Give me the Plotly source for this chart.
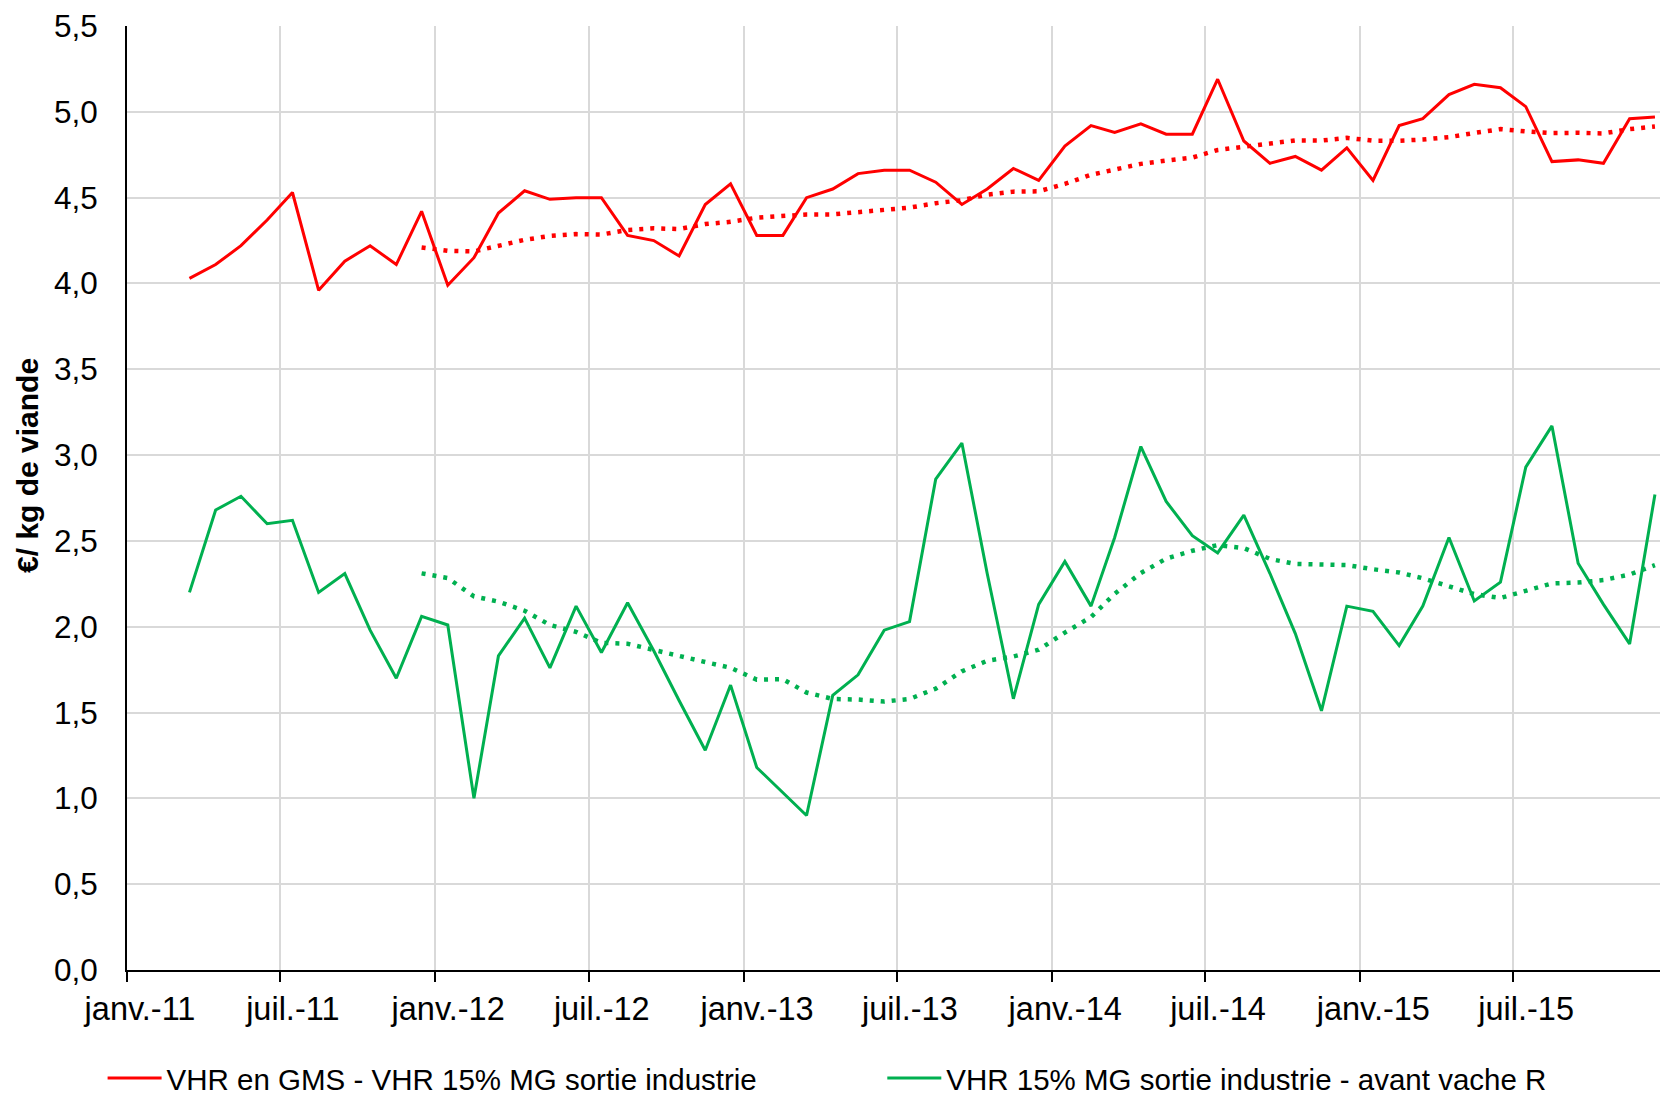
import pandas as pd
import plotly.graph_objects as go

# Monthly categories (March 2011 -> December 2015), plotted at mid-month
months = pd.period_range("2011-03", "2015-12", freq="M")

# VHR en GMS - VHR 15% MG sortie industrie (€/kg)
red_values = [
    4.03, 4.11, 4.22, 4.37, 4.53, 3.96, 4.13, 4.22, 4.11, 4.42,
    3.99, 4.15, 4.41, 4.54, 4.49, 4.50, 4.50, 4.28, 4.25, 4.16, 4.46, 4.58,
    4.28, 4.28, 4.50, 4.55, 4.64, 4.66, 4.66, 4.59, 4.46, 4.55, 4.67, 4.60,
    4.80, 4.92, 4.88, 4.93, 4.87, 4.87, 5.19, 4.83, 4.70, 4.74, 4.66, 4.79,
    4.60, 4.92, 4.96, 5.10, 5.16, 5.14, 5.03, 4.71, 4.72, 4.70, 4.96, 4.97,
]

# VHR 15% MG sortie industrie - avant vache R (€/kg)
green_values = [
    2.20, 2.68, 2.76, 2.60, 2.62, 2.20, 2.31, 1.98, 1.70, 2.06,
    2.01, 1.00, 1.83, 2.05, 1.76, 2.12, 1.85, 2.14, 1.86, 1.57, 1.28, 1.66,
    1.18, 1.03, 0.90, 1.60, 1.72, 1.98, 2.03, 2.86, 3.07, 2.31, 1.58, 2.13,
    2.38, 2.12, 2.52, 3.05, 2.73, 2.53, 2.43, 2.65, 2.31, 1.96, 1.51, 2.12,
    2.09, 1.89, 2.12, 2.52, 2.15, 2.26, 2.93, 3.17, 2.37, 2.13, 1.90, 2.77,
]

red_name = "VHR en GMS - VHR 15% MG sortie industrie"
green_name = "VHR 15% MG sortie industrie - avant vache R"

tick_dates = ["2011-01-01", "2011-07-01", "2012-01-01", "2012-07-01", "2013-01-01",
              "2013-07-01", "2014-01-01", "2014-07-01", "2015-01-01", "2015-07-01"]
tick_labels = ["janv.-11", "juil.-11", "janv.-12", "juil.-12", "janv.-13",
               "juil.-13", "janv.-14", "juil.-14", "janv.-15", "juil.-15"]

y_ticks = [0, 0.5, 1, 1.5, 2, 2.5, 3, 3.5, 4, 4.5, 5, 5.5]

RED = "#FF0000"
GREEN = "#00B050"
FONT = "Liberation Sans, Arial, sans-serif"

x = months.to_timestamp() + pd.Timedelta(days=15)

# 12-month moving-average trendlines (as in the source spreadsheet, whose
# category axis starts in January 2011 with the first two months empty)
full_months = pd.period_range("2011-01", "2015-12", freq="M")
def moving_avg(vals):
    s = pd.Series(vals, index=months).reindex(full_months)
    ma = s.rolling(12, min_periods=10).mean()
    return ma.loc[months].tolist()

red_ma = moving_avg(red_values)
green_ma = moving_avg(green_values)

fig = go.Figure()
fig.add_trace(go.Scatter(x=x, y=red_values, mode="lines", name=red_name,
                         line=dict(color=RED, width=3), legend="legend"))
fig.add_trace(go.Scatter(x=x, y=green_values, mode="lines", name=green_name,
                         line=dict(color=GREEN, width=3), legend="legend2"))
fig.add_trace(go.Scatter(x=x, y=red_ma, mode="lines", showlegend=False,
                         line=dict(color=RED, width=4.5, dash="4px,7px")))
fig.add_trace(go.Scatter(x=x, y=green_ma, mode="lines", showlegend=False,
                         line=dict(color=GREEN, width=4.5, dash="4px,7px")))

W, H = 1660, 1104
L, R, T, B = 127.4, 0, 25.6, 1104 - 969.6
pw, ph = W - L - R, H - T - B

def px_x(p):  # page x -> paper x
    return (p - L) / pw

def px_y(p):  # page y -> paper y
    return (H - B - p) / ph

fig.update_layout(
    width=W, height=H,
    margin=dict(l=L, r=R, t=T, b=B, autoexpand=False),
    paper_bgcolor="white", plot_bgcolor="white",
    separators=", ",
    font=dict(family=FONT, size=30, color="black"),
    xaxis=dict(
        type="date", range=["2011-01-01", "2015-12-22"], automargin=False,
        tickmode="array", tickvals=tick_dates, ticktext=tick_labels,
        ticks="outside", ticklen=10, tickwidth=2, tickcolor="black",
        ticklabelshift=13, ticklabelstandoff=-1,
        showgrid=True, gridcolor="#D9D9D9", gridwidth=2,
        showline=True, linecolor="black", linewidth=2,
        zeroline=False, tickfont=dict(size=32.5),
    ),
    yaxis=dict(
        range=[0, 5.5], tickmode="array", tickvals=y_ticks, tickformat=".1f",
        automargin=False,
        ticks="", showgrid=True, gridcolor="#D9D9D9", gridwidth=2,
        showline=True, linecolor="black", linewidth=2, zeroline=False,
        ticklabelstandoff=21, tickfont=dict(size=31.5),
    ),
    legend=dict(orientation="h", x=px_x(103), y=px_y(1104), xanchor="left",
                yanchor="bottom", font=dict(size=29.5), itemwidth=54,
                bgcolor="rgba(0,0,0,0)"),
    legend2=dict(orientation="h", x=px_x(882.5), y=px_y(1104), xanchor="left",
                 yanchor="bottom", font=dict(size=29.5), itemwidth=54,
                 bgcolor="rgba(0,0,0,0)"),
    annotations=[dict(
        text="<b>€/ kg de viande</b>", textangle=-90, showarrow=False,
        xref="paper", yref="paper", x=px_x(28), y=px_y(465),
        xanchor="center", yanchor="middle", font=dict(size=30),
    )],
)

fig.write_html(
    "out.html",
    config={"displayModeBar": False},
    post_script="document.body.style.margin='0px';"
                "document.body.style.overflow='hidden';",
)
